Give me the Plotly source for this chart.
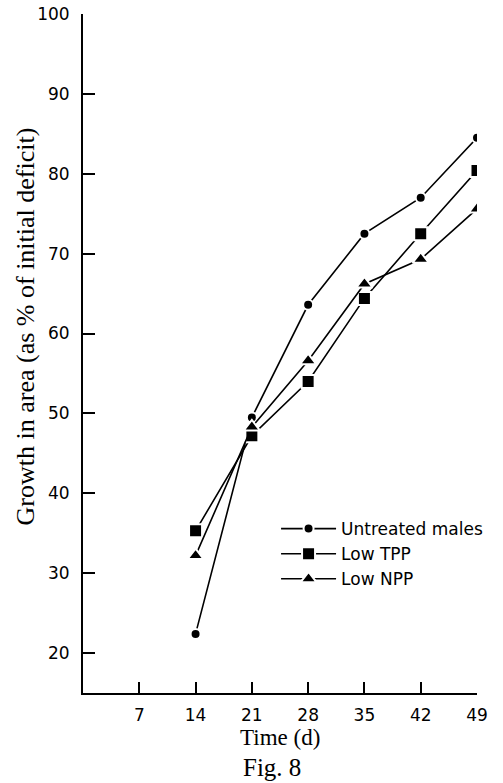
import plotly.graph_objects as go

days = [14, 21, 28, 35, 42, 49]
untreated = [22.4, 49.5, 63.6, 72.5, 77.0, 84.5]
low_tpp = [35.3, 47.2, 54.0, 64.4, 72.5, 80.4]
low_npp = [32.2, 48.3, 56.6, 66.2, 69.3, 75.6]

x_ticks = [7, 14, 21, 28, 35, 42, 49]
y_ticks = [20, 30, 40, 50, 60, 70, 80, 90, 100]

series = [
    ("Untreated males", untreated, "circle", 10),
    ("Low TPP", low_tpp, "square", 13),
    ("Low NPP", low_npp, "triangle-up", 14),
]

fig = go.Figure()
for name, vals, sym, size in series:
    fig.add_trace(go.Scatter(
        x=days, y=vals, name=name, mode="lines+markers",
        line=dict(color="black", width=1.6),
        marker=dict(symbol=sym, size=size, color="black",
                    line=dict(color="white", width=2)),
    ))

sans = "'DejaVu Sans', sans-serif"
serif = "'Liberation Serif', 'DejaVu Serif', serif"

fig.update_layout(
    width=503, height=783,
    margin=dict(l=83, r=26, t=14, b=90, autoexpand=False),
    paper_bgcolor="white", plot_bgcolor="white",
    font=dict(family=sans, size=17, color="black"),
    showlegend=True,
    legend=dict(x=0.49, y=0.268, xanchor="left", yanchor="top",
                font=dict(family=sans, size=17, color="black"),
                bgcolor="rgba(0,0,0,0)", itemwidth=55, tracegroupgap=0),
    xaxis=dict(range=[0, 49], tickvals=x_ticks, ticks="inside", ticklen=11,
               tickwidth=2, tickcolor="black", showline=True, linecolor="black",
               linewidth=2, showgrid=False, zeroline=False, automargin=False,
               ticklabeloverflow="allow",
               tickfont=dict(family=sans, size=17), ticklabelstandoff=6),
    yaxis=dict(range=[15, 100], tickvals=y_ticks, ticks="inside", ticklen=12,
               tickwidth=2, tickcolor="black", showline=True, linecolor="black",
               linewidth=2, showgrid=False, zeroline=False, automargin=False,
               ticklabeloverflow="allow",
               tickfont=dict(family=sans, size=17), ticklabelstandoff=8),
    annotations=[
        dict(text="Growth in area (as % of initial deficit)", xref="paper", yref="paper",
             x=-0.147, y=0.54, xanchor="center", yanchor="middle", textangle=-90,
             showarrow=False, font=dict(family=serif, size=26)),
        dict(text="Time (d)", xref="paper", yref="paper", x=0.5, y=-0.065,
             xanchor="center", yanchor="middle",
             showarrow=False, font=dict(family=serif, size=23)),
        dict(text="Fig. 8", xref="paper", yref="paper", x=0.48, y=-0.11,
             xanchor="center", yanchor="middle",
             showarrow=False, font=dict(family=serif, size=25)),
    ],
)

# remove the default 8px page margin so the figure fills the window exactly
fig.write_html("out.html", config={"displayModeBar": False},
               post_script="document.body.style.margin='0';")
